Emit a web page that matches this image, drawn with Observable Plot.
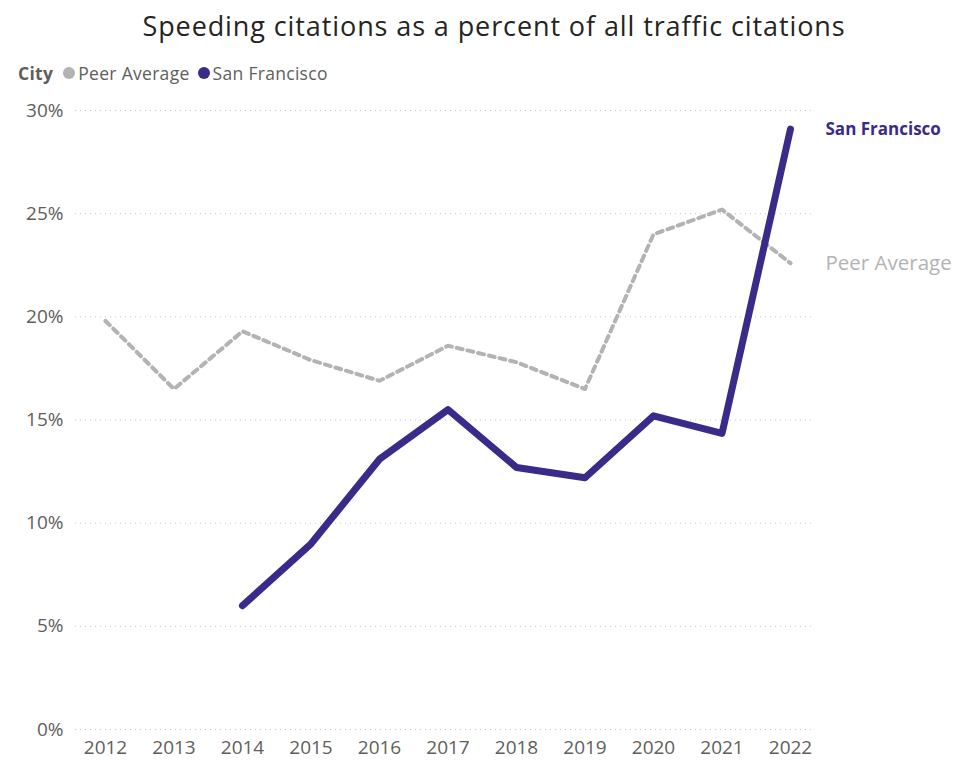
<!DOCTYPE html>
<html>
<head>
<meta charset="utf-8">
<script src="https://cdn.jsdelivr.net/npm/d3@7"></script>
<script src="https://cdn.jsdelivr.net/npm/@observablehq/plot@0.6"></script>
<style>
  body { margin: 0; background: #fff; font-family: "Open Sans", "DejaVu Sans", sans-serif; }
  #wrap { position: relative; width: 972px; height: 760px; overflow: hidden; }
  #title { position: absolute; top: 7px; left: 0; width: 988px; text-align: center; font-size: 27px; color: #252423; letter-spacing: 0.9px; }
  #legend { position: absolute; top: 61px; left: 18px; font-size: 17.5px; color: #605E5C; display: flex; align-items: center; white-space: nowrap; letter-spacing: 0.3px; }
  #legend b { color: #605E5C; margin-right: 10px; }
  .dot { display: inline-block; width: 12px; height: 12px; border-radius: 50%; margin-right: 3px; }
  .item { display: inline-flex; align-items: center; margin-right: 8px; }
  #chart { position: absolute; top: 90px; left: 0; }
</style>
</head>
<body>
<div id="wrap">
  <div id="title">Speeding citations as a percent of all traffic citations</div>
  <div id="legend"></div>
  <div id="chart"></div>
</div>
<script>
const years = [2012, 2013, 2014, 2015, 2016, 2017, 2018, 2019, 2020, 2021, 2022];
const peerAverage = [19.8, 16.5, 19.3, 17.9, 16.9, 18.6, 17.8, 16.5, 24.0, 25.2, 22.6];
const sanFrancisco = [null, null, 6.0, 9.0, 13.1, 15.5, 12.7, 12.2, 15.2, 14.35, 29.1];
const yTicks = [0, 5, 10, 15, 20, 25, 30];
const seriesNames = ["Peer Average", "San Francisco"];
const seriesColors = ["#B3B3B3", "#3A2A8A"];

const peer = years.map((y, i) => ({year: y, value: peerAverage[i]}));
const sf = years.map((y, i) => ({year: y, value: sanFrancisco[i]})).filter(d => d.value != null);

// legend
const legend = document.getElementById("legend");
legend.innerHTML = "<b>City</b>" + seriesNames.map((n, i) =>
  `<span class="item"><span class="dot" style="background:${seriesColors[i]}"></span>${n}</span>`).join("");

const fontFam = '"Open Sans", "DejaVu Sans", sans-serif';
const chart = Plot.plot({
  width: 972,
  height: 670,
  marginTop: 20,
  marginBottom: 31,
  marginLeft: 75,
  marginRight: 157,
  style: {fontFamily: fontFam, fontSize: "19px", color: "#605E5C", background: "transparent"},
  x: {domain: [2012, 2022], insetLeft: 30, insetRight: 25},
  y: {domain: [0, 30]},
  marks: [
    Plot.ruleY(yTicks, {stroke: "#C8C8C8", strokeWidth: 1, strokeDasharray: "1,4"}),
    Plot.axisY(yTicks, {tickSize: 0, tickPadding: 12, tickFormat: d => d + "%", fill: "#605E5C", fontSize: 19, label: null}),
    Plot.axisX(years, {tickSize: 0, tickPadding: 11, tickFormat: d => String(d), fill: "#605E5C", fontSize: 19, label: null}),
    Plot.line(peer, {x: "year", y: "value", stroke: seriesColors[0], strokeWidth: 4, strokeDasharray: "6,5"}),
    Plot.line(sf, {x: "year", y: "value", stroke: seriesColors[1], strokeWidth: 7, strokeLinecap: "round", strokeLinejoin: "round"}),
    Plot.text([sf[sf.length - 1]], {x: "year", y: "value", text: () => "San Francisco", dx: 35, textAnchor: "start", fill: seriesColors[1], fontWeight: "bold", fontSize: 17}),
    Plot.text([peer[peer.length - 1]], {x: "year", y: "value", text: () => "Peer Average", dx: 35, textAnchor: "start", fill: seriesColors[0], fontSize: 20.5})
  ]
});
document.getElementById("chart").appendChild(chart);
</script>
</body>
</html>
